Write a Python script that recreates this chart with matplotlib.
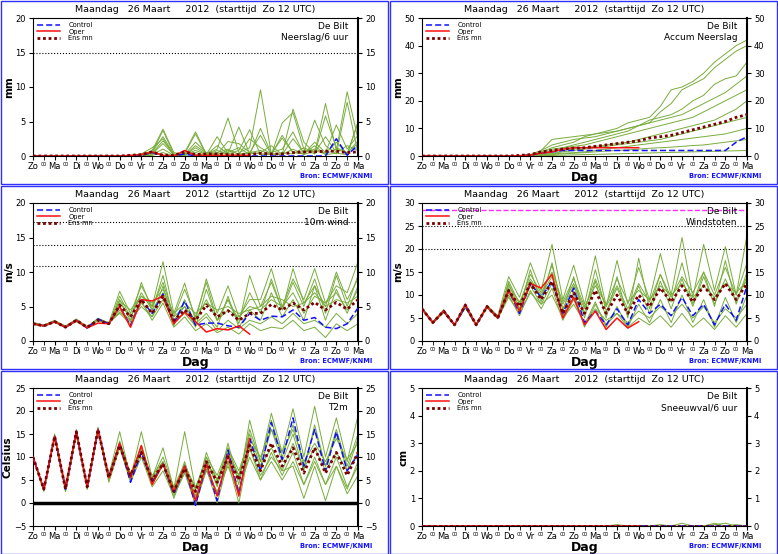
import matplotlib
matplotlib.use("Agg")
import matplotlib.pyplot as plt
from matplotlib.patches import Rectangle
import numpy as np

plt.rcParams['font.family'] = ['DejaVu Sans']

# time axis: 12-hourly steps over 15 days (days since Zo 12 UTC)
steps = np.arange(31) * 0.5
day_labels = ['Zo', 'Ma', 'Di', 'Wo', 'Do', 'Vr', 'Za', 'Zo', 'Ma', 'Di', 'Wo', 'Do', 'Vr', 'Za', 'Zo', 'Ma']

# ---- Neerslag/6 uur ----
precip_members = [
    [0]*10 + [0.2, 0.5, 3.7, 0.2, 0.5, 3.5, 0.3, 1.0, 5.5, 0.5, 1.2, 9.6, 0.3, 0.2, 2.5, 0.5, 1.0, 0.4, 2.0, 0.3, 4.8],
    [0]*10 + [0.3, 1.2, 2.5, 0.1, 0.2, 2.0, 0.5, 0.3, 2.1, 1.8, 0.5, 3.0, 0.2, 4.8, 6.3, 1.0, 0.3, 5.8, 1.2, 0.5, 1.8],
    [0]*10 + [0.1, 0.8, 3.9, 0.5, 0.1, 1.2, 0.2, 2.8, 0.4, 4.2, 0.3, 0.5, 1.5, 0.2, 6.8, 2.0, 0.4, 7.6, 0.8, 9.3, 2.5],
    [0]*10 + [0.2, 0.3, 1.8, 0.2, 0.4, 3.2, 0.2, 0.5, 1.0, 0.2, 2.5, 1.2, 0.3, 2.6, 0.5, 0.6, 5.2, 1.5, 0.3, 7.8, 0.4],
    [0]*10 + [0.1, 0.4, 2.2, 0.3, 0.2, 0.8, 0.2, 1.5, 0.3, 0.8, 3.8, 0.2, 0.5, 1.0, 3.5, 0.3, 2.0, 0.5, 4.5, 1.0, 3.0],
    [0]*10 + [0.0, 0.2, 1.0, 0.1, 0.1, 1.5, 0.4, 0.2, 0.8, 0.3, 0.5, 0.8, 0.2, 0.5, 0.3, 1.2, 0.5, 2.8, 0.5, 1.5, 0.8],
    [0]*10 + [0.2, 0.6, 2.8, 0.2, 0.3, 0.5, 0.1, 0.3, 0.5, 1.2, 0.2, 4.0, 0.3, 0.2, 1.0, 0.2, 0.8, 0.3, 1.0, 0.4, 2.2],
    [0]*10 + [0.0, 0.1, 0.5, 0.0, 0.1, 0.2, 0.1, 0.8, 0.2, 0.1, 0.5, 0.3, 0.2, 3.0, 0.5, 0.3, 1.5, 0.2, 0.4, 0.2, 5.0],
]
precip_ctrl = [0]*10 + [0.1, 0.5, 0, 0, 0.3, 0, 0, 0, 0, 0, 0, 0, 0, 0, 0, 0, 0, 0, 2.5, 0.1, 1.6]
precip_oper = [0]*9 + [0.1, 0.2, 0.6, 0.1, 0, 0.8, 0.1, 0.1, 0.1, 0.1, 0.1, 0.1]
precip_mean = [0]*9 + [0.1, 0.2, 0.6, 0.1, 0.1, 0.6, 0.2, 0.3, 0.3, 0.2, 0.2, 0.2, 0.4, 0.3, 0.3, 0.5, 0.6, 0.6, 0.7, 0.7, 0.5, 0.6]

# ---- Accum Neerslag ----
accum_members = [
    [0, 0, 0, 0, 0, 0, 0, 0, 0, 0.2, 0.5, 2, 6, 6.5, 7, 7.5, 8, 9, 10, 12, 13, 14, 18, 24, 25, 27, 30, 34, 37, 40, 42],
    [0, 0, 0, 0, 0, 0, 0, 0, 0, 0.1, 0.3, 1.5, 3, 4, 5, 7, 8, 8.5, 9, 10, 11, 12, 16, 19, 24, 26, 28, 32, 35, 38, 40],
    [0, 0, 0, 0, 0, 0, 0, 0, 0, 0.1, 0.4, 2, 4, 5, 6, 6.5, 7, 8, 9, 10, 11, 13, 14, 15, 17, 20, 22, 26, 28, 29, 34],
    [0, 0, 0, 0, 0, 0, 0, 0, 0, 0, 0.2, 1, 2, 3, 4, 5, 6, 7, 8, 9, 11, 12, 13, 14, 15, 17, 19, 21, 23, 26, 29],
    [0, 0, 0, 0, 0, 0, 0, 0, 0, 0.1, 0.3, 1.5, 2.5, 3, 3.5, 4, 5, 6, 7, 8, 9, 10, 11, 12, 13, 14, 16, 18, 20, 22, 24],
    [0, 0, 0, 0, 0, 0, 0, 0, 0, 0, 0.2, 0.8, 1.5, 2, 2.5, 3, 3.5, 4, 4.5, 5, 6, 7, 8, 9, 10, 11, 12, 13, 15, 17, 20],
    [0, 0, 0, 0, 0, 0, 0, 0, 0, 0, 0.1, 0.5, 1, 1.5, 2, 2.5, 3, 3.5, 4, 4.5, 5, 5.5, 6, 7, 8, 9, 10, 11, 12, 13, 14],
    [0, 0, 0, 0, 0, 0, 0, 0, 0, 0, 0.1, 0.3, 0.8, 1, 1.2, 1.5, 2, 2.5, 3, 3.5, 4, 4.5, 5, 5.5, 6, 6.5, 7, 7.5, 8, 9, 10],
    [0, 0, 0, 0, 0, 0, 0, 0, 0, 0, 0, 0.2, 0.5, 0.8, 1, 1.2, 1.5, 1.8, 2, 2.2, 2.5, 2.8, 3, 3.2, 3.5, 3.8, 4, 4.5, 5, 5.5, 6],
    [0, 0, 0, 0, 0, 0, 0, 0, 0, 0, 0, 0.1, 0.2, 0.3, 0.4, 0.5, 0.6, 0.7, 0.8, 0.9, 1, 1.1, 1.2, 1.3, 1.4, 1.5, 1.6, 1.7, 1.8, 1.9, 2],
]
accum_ctrl = [0, 0, 0, 0, 0, 0, 0, 0, 0, 0.1, 0.3, 1, 1.5, 2, 2, 2, 2, 2, 2, 2, 2, 2, 2, 2, 2, 2, 2, 2, 2, 5, 7]
accum_oper = [0, 0, 0, 0, 0, 0, 0, 0, 0, 0.1, 0.3, 1, 1.5, 2.5, 3, 3, 3, 3, 3, 3, 3]
accum_mean = [0, 0, 0, 0, 0, 0, 0, 0, 0, 0.2, 0.5, 1.5, 2, 2.5, 2.8, 3, 3.5, 4, 4.5, 5, 5.5, 6.5, 7, 7.5, 8.5, 9.5, 10.5, 11.5, 12.5, 14, 15]

# ---- 10m wind ----
wind_members = [
    [2.6, 2.3, 3.0, 2.1, 3.2, 2.0, 3.3, 2.6, 7.2, 4.0, 8.0, 5.0, 11.5, 4.0, 8.4, 3.0, 9.0, 4.0, 8.0, 3.5, 6.0, 6.0, 10.5, 5.0, 9.0, 6.0, 10.5, 5.5, 8.0, 7.0, 11.5],
    [2.4, 2.1, 2.7, 1.9, 2.9, 1.8, 3.0, 2.4, 6.0, 3.0, 8.5, 4.5, 9.5, 3.0, 5.0, 2.0, 7.5, 3.0, 6.0, 2.5, 9.5, 5.0, 8.5, 4.5, 10.5, 5.5, 8.0, 5.0, 10.0, 6.0, 9.0],
    [2.7, 2.3, 2.9, 2.2, 3.1, 2.1, 3.1, 2.7, 4.0, 2.5, 5.5, 3.5, 8.0, 2.2, 6.0, 2.5, 4.0, 2.0, 6.5, 2.0, 4.5, 3.0, 7.0, 3.5, 6.0, 3.0, 8.0, 3.0, 7.5, 4.0, 8.0],
    [2.5, 2.2, 2.8, 2.0, 2.8, 1.9, 3.1, 2.4, 5.5, 3.5, 7.0, 4.5, 7.0, 3.5, 5.0, 3.0, 6.0, 3.0, 4.5, 3.5, 5.0, 4.5, 6.0, 5.0, 7.0, 4.0, 6.5, 5.5, 7.0, 4.5, 7.5],
    [2.5, 2.2, 2.8, 2.1, 3.0, 2.0, 3.0, 2.5, 4.5, 3.0, 5.0, 3.5, 6.0, 2.8, 4.0, 2.2, 3.5, 1.5, 3.0, 1.8, 3.0, 2.5, 3.5, 2.5, 4.0, 2.5, 3.0, 2.0, 4.0, 2.5, 4.0],
    [2.6, 2.2, 2.9, 2.0, 3.0, 2.0, 3.2, 2.5, 5.8, 4.5, 6.5, 5.5, 7.5, 4.0, 5.5, 4.0, 5.5, 4.5, 5.0, 4.0, 4.5, 5.0, 6.5, 6.0, 5.0, 5.5, 7.0, 5.0, 6.0, 5.5, 6.5],
    [2.5, 2.2, 2.8, 2.0, 3.0, 1.9, 3.0, 2.5, 4.2, 2.8, 5.8, 3.0, 5.5, 2.0, 3.5, 1.5, 2.5, 1.2, 2.0, 1.0, 2.5, 1.5, 2.0, 1.8, 3.0, 1.5, 2.0, 0.5, 2.5, 1.5, 2.5],
    [2.5, 2.3, 2.8, 2.0, 3.0, 2.0, 3.1, 2.5, 6.5, 3.5, 6.5, 5.0, 8.5, 3.5, 7.5, 3.5, 8.5, 3.0, 6.0, 3.0, 7.0, 4.0, 9.0, 4.5, 8.5, 5.0, 9.0, 4.0, 9.5, 5.0, 9.5],
]
wind_ctrl = [2.5, 2.2, 2.8, 2.0, 3.0, 1.9, 3.2, 2.5, 5.0, 2.2, 6.0, 4.0, 6.8, 2.5, 5.8, 2.3, 2.6, 2.6, 2.2, 2.0, 4.0, 3.0, 3.6, 3.5, 4.5, 3.0, 3.4, 2.0, 1.8, 2.5, 4.8]
wind_oper = [2.5, 2.2, 2.8, 2.0, 3.0, 1.9, 2.6, 2.5, 5.0, 2.0, 6.0, 5.8, 6.5, 2.5, 4.2, 2.8, 1.3, 1.8, 1.6, 2.2, 1.0]
wind_mean = [2.5, 2.2, 2.8, 2.0, 3.0, 2.0, 3.0, 2.5, 5.2, 3.5, 6.0, 4.0, 6.5, 3.0, 4.5, 3.0, 5.2, 3.5, 4.4, 3.0, 4.0, 4.0, 5.3, 4.5, 5.5, 4.5, 5.6, 4.5, 5.6, 4.6, 6.0]

# ---- Windstoten ----
gust_members = [
    [7.2, 4.2, 6.8, 3.6, 8.0, 3.6, 7.8, 5.5, 14.0, 9.5, 17.0, 11.0, 21.0, 9.0, 16.5, 8.0, 18.5, 7.5, 17.5, 8.0, 16.0, 9.0, 19.0, 10.0, 22.5, 9.5, 21.0, 11.0, 20.5, 10.0, 23.0],
    [6.8, 3.8, 6.2, 3.4, 7.2, 3.3, 7.2, 4.8, 12.5, 7.0, 15.5, 8.5, 17.0, 6.5, 14.0, 5.0, 13.0, 5.0, 14.0, 5.0, 18.0, 7.0, 14.5, 8.5, 17.0, 8.0, 15.0, 7.5, 17.5, 8.0, 15.0],
    [7.0, 4.0, 6.5, 3.5, 7.5, 3.5, 7.5, 5.0, 10.0, 5.5, 11.0, 7.0, 11.5, 4.5, 9.0, 3.5, 8.5, 3.0, 7.5, 3.0, 8.0, 4.0, 9.0, 4.0, 10.0, 4.0, 9.0, 3.0, 9.5, 4.0, 10.0],
    [7.1, 4.1, 6.6, 3.5, 7.7, 3.6, 7.6, 5.2, 12.0, 8.5, 13.5, 10.0, 14.0, 8.0, 12.5, 7.0, 13.5, 7.5, 12.0, 7.0, 12.5, 8.5, 14.5, 9.5, 14.0, 10.5, 15.0, 10.0, 16.0, 10.0, 17.0],
    [6.9, 3.9, 6.4, 3.4, 7.4, 3.4, 7.4, 4.9, 9.5, 6.0, 10.5, 8.0, 10.0, 5.0, 8.0, 4.0, 7.0, 4.5, 6.0, 4.0, 6.5, 5.0, 7.5, 5.5, 8.0, 5.0, 7.5, 4.0, 7.0, 5.0, 8.0],
    [7.0, 4.0, 6.5, 3.5, 7.6, 3.5, 7.5, 5.0, 11.5, 7.0, 13.0, 9.5, 16.5, 7.0, 12.0, 6.0, 15.5, 6.5, 11.5, 6.0, 12.0, 6.0, 13.0, 7.0, 13.5, 7.5, 14.0, 8.0, 13.5, 8.5, 14.0],
    [7.0, 4.0, 6.5, 3.5, 7.5, 3.5, 7.5, 5.0, 10.5, 6.5, 12.0, 8.0, 12.5, 5.5, 10.5, 3.0, 8.0, 3.5, 6.0, 3.0, 5.0, 3.5, 5.5, 3.0, 6.0, 3.0, 5.0, 2.5, 5.5, 3.0, 6.0],
    [7.0, 4.0, 6.5, 3.5, 7.5, 3.5, 7.5, 5.0, 13.0, 8.0, 14.5, 10.5, 15.0, 8.5, 13.5, 7.5, 12.0, 8.0, 13.5, 8.5, 11.0, 9.0, 12.0, 10.0, 12.5, 9.5, 12.0, 9.5, 12.5, 10.5, 13.0],
]
gust_ctrl = [7, 4, 6.5, 3.5, 7.5, 3.5, 7.5, 5, 11, 6, 12.5, 9.5, 13, 6, 11.5, 4, 6.5, 3.5, 7, 3.5, 9, 6, 8, 5.5, 9.5, 5.5, 8, 3.5, 8, 4.5, 12]
gust_oper = [7, 4, 6.5, 3.5, 8, 3.5, 7.5, 5, 11, 6.5, 12.5, 11.5, 14.5, 5, 9.5, 3.5, 6.5, 2.5, 5, 2.8, 4.2]
gust_mean = [7, 4, 6.5, 3.5, 7.8, 3.5, 7.5, 5, 11, 7.5, 12.5, 9, 13, 6, 10.5, 6, 11, 6, 10, 6, 10, 7.5, 11.5, 8.5, 12, 8.5, 12, 9, 12.5, 9, 12.5]

# ---- T2m ----
temp_members = [
    [10, 2.8, 15, 2.5, 16, 3, 16.5, 6, 15.5, 5.5, 15.5, 5.5, 12, 3, 15.5, 3, 10, 3.5, 13, 4, 18, 9, 19.5, 11, 20.5, 10, 21, 10, 18.5, 9, 19],
    [10, 3, 14, 3, 15, 3.5, 15.5, 5.5, 13.5, 6, 12.5, 5, 9, 2.5, 9, 1.5, 11, 5, 11.5, 6, 15, 8, 16, 9, 15, 7, 17, 8, 15, 7, 14],
    [10, 2.5, 14.5, 2.5, 15, 3, 16, 4.5, 12, 4.5, 10, 3.5, 7, 1.5, 6.5, 0, 7, 2.5, 8, 2, 12, 5, 11, 6, 11, 4, 10, 4, 10, 3.5, 8],
    [10, 3, 14.5, 3.5, 15.5, 4, 16, 5.5, 12.5, 6, 11, 6, 9, 3, 8, 3.5, 9, 5, 10, 6, 13, 8, 12, 7, 13, 7.5, 12, 7, 11, 7, 11],
    [10, 3, 14.5, 3, 15.5, 3.5, 16, 5, 13, 5, 11.5, 4.5, 8.5, 2, 7, -0.5, 7.5, 0, 9, 0, 12, 6, 10, 7, 8, 1, 8, 0.5, 8, 2, 6],
    [10, 3, 14.5, 3, 15.5, 3.5, 16, 6, 13, 6.5, 11, 5.5, 10, 3.5, 8.5, 3, 10, 6, 12, 7, 14, 10, 16, 11, 16, 9, 13, 9, 14, 9.5, 13],
    [10, 3, 14.5, 3, 15.5, 3.5, 16, 5.5, 12.5, 5, 11, 4, 8.5, 1, 7.5, 1, 8, 2, 9, 3, 10, 5, 9, 5, 9, 4, 9, 4, 8, 3, 9],
    [10, 3, 14.5, 3, 15.5, 3.5, 16, 5.5, 13, 6, 12, 5, 8.5, 3, 8, 3, 9, 4, 11, 5, 16, 9, 18, 10, 17, 8, 16, 8, 16, 8, 15],
]
temp_ctrl = [10, 3, 14.5, 3, 15.5, 3.5, 16, 5.5, 13, 4.5, 11, 4.5, 8.5, 2, 8, -0.5, 8.5, 0.5, 11.5, 2, 14, 7, 17.5, 9.5, 18.5, 8, 16, 7, 15.5, 7, 10.5]
temp_oper = [10, 3, 14.5, 3.5, 15.5, 3.5, 16, 5.5, 13, 5.5, 12.5, 4, 8.5, 2.5, 8, 0.5, 8.5, 1.5, 10.5, 1.5, 14]
temp_mean = [10, 3, 14.5, 3, 15.5, 3.5, 16, 5.5, 12.5, 6, 11, 5, 8.5, 2.5, 7.5, 2.5, 9, 4.5, 10, 5, 12.5, 7, 13, 8, 12, 6.5, 12, 6.5, 11, 6, 11]

# ---- Sneeuwval/6 uur ----
snow_members = [
    [0]*18 + [0.05, 0, 0, 0, 0, 0, 0.1, 0, 0, 0.05, 0.1, 0, 0],
    [0]*22 + [0.05, 0, 0, 0, 0, 0.1, 0, 0.05, 0],
]
snow_ctrl = [0]*31
snow_oper = [0]*21
snow_mean = [0]*31

GREEN = '#78ad3c'


def draw_panel(ax, members, ctrl, oper, mean, ylim, yticks, ylabel, name, hlines=()):
    for m in members:
        ax.plot(steps, m, color=GREEN, lw=0.7, zorder=2)
    for y, st, col, lw in hlines:
        ax.axhline(y, color=col, ls=st, lw=lw, zorder=1)
    ax.plot(steps, ctrl, color='#1010ff', ls=(0, (4, 2)), lw=1.1, label='Control', zorder=4)
    ax.plot(steps[:len(oper)], oper, color='#ff1010', lw=1.1, label='Oper', zorder=4)
    ax.plot(steps, mean, color='#7a0000', ls=(0, (1, 1)), lw=2.0, label='Ens mn', zorder=5)
    ax.set_xlim(0, 15)
    ax.set_ylim(*ylim)
    ax.set_yticks(yticks)
    ax.tick_params(axis='y', labelsize=6, length=3, right=True, labelright=True, direction='out', pad=2)
    ax.set_xticks(np.arange(16))
    ax.set_xticklabels(day_labels, fontsize=6)
    ax.set_xticks(np.arange(15) + 0.5, minor=True)
    ax.set_xticklabels(['00'] * 15, minor=True, fontsize=3.5)
    ax.tick_params(axis='x', which='both', length=3, pad=1)
    ax.set_ylabel(ylabel, fontsize=7.5, fontweight='bold', labelpad=1)
    ax.set_xlabel('Dag', fontsize=9, fontweight='bold', labelpad=0)
    ax.set_title('Maandag   26 Maart     2012  (starttijd  Zo 12 UTC)', fontsize=6.8, pad=4)
    ax.text(0.97, 0.97, 'De Bilt\n' + name, transform=ax.transAxes, ha='right', va='top',
            fontsize=6.5, linespacing=1.3, zorder=6)
    ax.legend(loc='upper left', fontsize=4.8, frameon=False, handlelength=3.5,
              borderaxespad=0.2, labelspacing=0.1, handletextpad=1.2)
    ax.text(1.043, -0.145, 'Bron: ECMWF/KNMI', transform=ax.transAxes, ha='right', va='center',
            fontsize=4.8, color='#1010ff', fontweight='bold')
    for s in ax.spines.values():
        s.set_linewidth(0.8)
    ax.spines['right'].set_linewidth(1.5)


fig = plt.figure(figsize=(7.78, 5.54), dpi=100)
W, H = 778.0, 554.0


def panel_axes(col, row):
    x0 = col * 389 + 33
    y0 = row * 185 + 18
    ax = fig.add_axes([x0 / W, 1 - (y0 + 138) / H, 325 / W, 138 / H])
    fig.patches.append(Rectangle(((col * 389 + 1) / W, 1 - (row * 185 + 184) / H), 387 / W, 183 / H,
                                 transform=fig.transFigure, fill=False, edgecolor='#3030ff', lw=1.0))
    return ax


ax = panel_axes(0, 0)
draw_panel(ax, precip_members, precip_ctrl, precip_oper, precip_mean, (0, 20), range(0, 21, 5), 'mm',
           'Neerslag/6 uur', [(15, ':', 'black', 0.8)])
ax = panel_axes(1, 0)
draw_panel(ax, accum_members, accum_ctrl, accum_oper, accum_mean, (0, 50), range(0, 51, 10), 'mm',
           'Accum Neerslag')
ax = panel_axes(0, 1)
draw_panel(ax, wind_members, wind_ctrl, wind_oper, wind_mean, (0, 20), range(0, 21, 5), 'm/s',
           '10m wind', [(10.8, ':', 'black', 0.8), (13.9, ':', 'black', 0.8), (17.2, ':', 'black', 0.8)])
ax = panel_axes(1, 1)
draw_panel(ax, gust_members, gust_ctrl, gust_oper, gust_mean, (0, 30), range(0, 31, 5), 'm/s',
           'Windstoten', [(20, ':', 'black', 0.8), (25, ':', 'black', 0.8), (28.5, '--', '#ff30ff', 1.0)])
ax = panel_axes(0, 2)
draw_panel(ax, temp_members, temp_ctrl, temp_oper, temp_mean, (-5, 25), range(-5, 26, 5), 'Celsius',
           'T2m', [(0, '-', 'black', 2.5)])
ax = panel_axes(1, 2)
draw_panel(ax, snow_members, snow_ctrl, snow_oper, snow_mean, (0, 5), range(0, 6), 'cm',
           'Sneeuwval/6 uur')

fig.savefig('out.png', dpi=100)
